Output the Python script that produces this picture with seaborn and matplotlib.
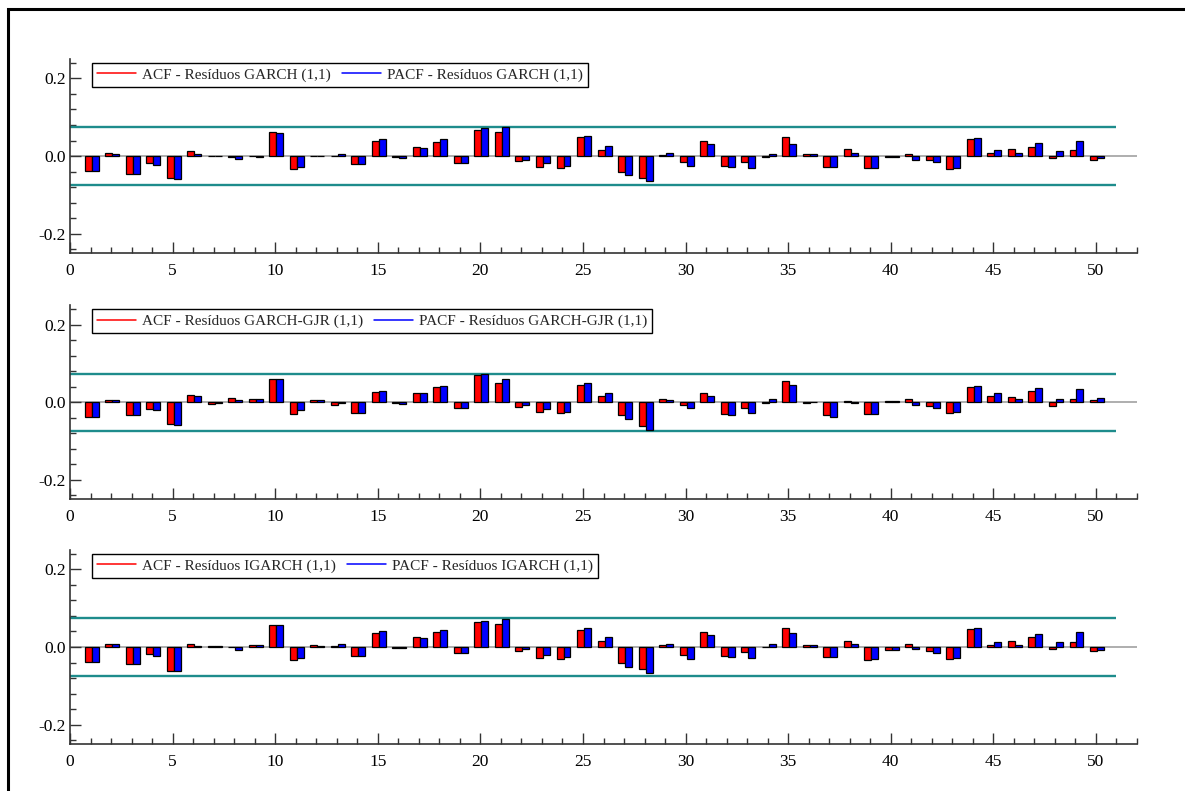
import pandas as pd
import matplotlib
matplotlib.use("Agg")
import matplotlib.pyplot as plt
from matplotlib.lines import Line2D
from matplotlib.patches import Rectangle
from matplotlib.ticker import MultipleLocator, FormatStrFormatter, FixedLocator
import seaborn as sns

# Correlogram of standardized residuals, lags 1..50
lags = list(range(1, 51))

acf_garch = [-0.038, 0.007, -0.047, -0.018, -0.057, 0.012, -0.001, -0.002, -0.001, 0.062,
             -0.033, 0.001, -0.001, -0.020, 0.040, -0.003, 0.024, 0.037, -0.018, 0.068,
             0.062, -0.014, -0.027, -0.032, 0.049, 0.015, -0.040, -0.056, 0.003, -0.015,
             0.040, -0.026, -0.015, -0.002, 0.049, 0.006, -0.027, 0.017, -0.032, -0.002,
             0.006, -0.011, -0.034, 0.044, 0.008, 0.019, 0.024, -0.006, 0.015, -0.009]
pacf_garch = [-0.038, 0.005, -0.046, -0.022, -0.058, 0.006, -0.001, -0.008, -0.002, 0.060,
              -0.028, -0.001, 0.004, -0.020, 0.044, -0.004, 0.021, 0.044, -0.018, 0.071,
              0.075, -0.009, -0.018, -0.026, 0.052, 0.026, -0.050, -0.064, 0.007, -0.025,
              0.030, -0.028, -0.030, 0.006, 0.032, 0.004, -0.027, 0.009, -0.031, -0.002,
              -0.010, -0.015, -0.031, 0.047, 0.015, 0.007, 0.033, 0.012, 0.039, -0.006]

acf_gjr = [-0.038, 0.007, -0.032, -0.017, -0.057, 0.020, -0.004, 0.010, 0.009, 0.061,
           -0.029, 0.007, -0.006, -0.027, 0.026, -0.002, 0.025, 0.040, -0.015, 0.070,
           0.049, -0.012, -0.025, -0.028, 0.044, 0.017, -0.033, -0.062, 0.008, -0.008,
           0.024, -0.031, -0.014, -0.001, 0.056, -0.002, -0.032, 0.004, -0.030, 0.002,
           0.008, -0.009, -0.027, 0.039, 0.017, 0.014, 0.029, -0.009, 0.009, 0.007]
pacf_gjr = [-0.038, 0.005, -0.032, -0.021, -0.059, 0.015, -0.003, 0.007, 0.009, 0.059,
            -0.021, 0.005, -0.002, -0.027, 0.030, -0.005, 0.025, 0.041, -0.015, 0.073,
            0.061, -0.006, -0.017, -0.024, 0.049, 0.024, -0.042, -0.072, 0.005, -0.014,
            0.017, -0.033, -0.027, 0.008, 0.045, 0.001, -0.037, -0.003, -0.029, 0.002,
            -0.006, -0.014, -0.026, 0.041, 0.024, 0.009, 0.036, 0.009, 0.033, 0.010]

acf_igarch = [-0.038, 0.009, -0.044, -0.019, -0.061, 0.009, 0.002, -0.001, 0.006, 0.057,
              -0.033, 0.004, 0.002, -0.023, 0.037, -0.003, 0.025, 0.038, -0.015, 0.065,
              0.059, -0.010, -0.029, -0.032, 0.044, 0.015, -0.042, -0.057, 0.004, -0.021,
              0.038, -0.023, -0.013, -0.001, 0.050, 0.005, -0.026, 0.015, -0.034, -0.009,
              0.009, -0.011, -0.030, 0.046, 0.006, 0.015, 0.026, -0.006, 0.014, -0.011]
pacf_igarch = [-0.038, 0.009, -0.044, -0.023, -0.062, 0.003, 0.002, -0.007, 0.004, 0.056,
               -0.029, 0.002, 0.007, -0.023, 0.041, -0.003, 0.023, 0.044, -0.015, 0.068,
               0.072, -0.005, -0.020, -0.026, 0.048, 0.027, -0.052, -0.067, 0.007, -0.030,
               0.031, -0.026, -0.029, 0.008, 0.035, 0.006, -0.026, 0.008, -0.032, -0.009,
               -0.006, -0.015, -0.029, 0.048, 0.014, 0.006, 0.034, 0.012, 0.038, -0.007]

labels_garch = ["ACF - Resíduos GARCH (1,1)", "PACF - Resíduos GARCH (1,1)"]
labels_gjr = ["ACF - Resíduos GARCH-GJR (1,1)", "PACF - Resíduos GARCH-GJR (1,1)"]
labels_igarch = ["ACF - Resíduos IGARCH (1,1)", "PACF - Resíduos IGARCH (1,1)"]

# approximate 95% significance band
band = 0.074

sns.set_style("ticks")
plt.rcParams["font.family"] = ["Liberation Serif", "DejaVu Serif"]

fig = plt.figure(figsize=(11.85, 7.91), dpi=100)

panels = [
    (acf_garch, pacf_garch, labels_garch, 0.6801),
    (acf_gjr, pacf_gjr, labels_gjr, 0.3688),
    (acf_igarch, pacf_igarch, labels_igarch, 0.0594),
]

colors = {"ACF": "#ff0000", "PACF": "#0000ff"}

for acf, pacf, labs, bottom in panels:
    ax = fig.add_axes([0.0591, bottom, 0.9004, 0.2453])
    df = pd.DataFrame({
        "lag": lags + lags,
        "valor": acf + pacf,
        "serie": ["ACF"] * len(lags) + ["PACF"] * len(lags),
    })
    df["pos"] = df["lag"] + 0.05

    ax.hlines(0, 0, 52, color="#a8a8a8", lw=1.3, zorder=0)
    sns.barplot(data=df, x="pos", y="valor", hue="serie", palette=colors,
                native_scale=True, width=0.68, dodge=True, saturation=1,
                errorbar=None, edgecolor="black", linewidth=0.9,
                legend=False, ax=ax, zorder=2)
    ax.hlines([band, -band], 0, 51, color="#1e8c8c", lw=1.7, zorder=1)

    ax.set_xlim(0, 52)
    ax.set_ylim(-0.25, 0.25)
    ax.set_xlabel("")
    ax.set_ylabel("")

    ax.xaxis.set_major_locator(MultipleLocator(5))
    ax.xaxis.set_minor_locator(MultipleLocator(1))
    ax.xaxis.set_major_formatter(FormatStrFormatter("%d"))
    ax.yaxis.set_major_locator(FixedLocator([-0.2, 0.0, 0.2]))
    ax.yaxis.set_minor_locator(MultipleLocator(0.04))
    ax.yaxis.set_major_formatter(FormatStrFormatter("%.1f"))

    ax.tick_params(axis="both", which="major", direction="in", length=8,
                   width=1, colors="#333333", labelcolor="black", labelsize=12.5)
    ax.tick_params(axis="both", which="minor", direction="in", length=4,
                   width=1, colors="#333333")
    ax.tick_params(axis="x", which="major", pad=7)
    ax.tick_params(axis="y", which="major", pad=3)

    for side in ("top", "right"):
        ax.spines[side].set_visible(False)
    for side in ("left", "bottom"):
        ax.spines[side].set_color("#333333")
        ax.spines[side].set_linewidth(1.2)

    handles = [Line2D([], [], color=colors["ACF"], lw=1.1),
               Line2D([], [], color=colors["PACF"], lw=1.1)]
    leg = ax.legend(handles, labs, loc="upper left", bbox_to_anchor=(0.0206, 0.979),
                    ncol=2, frameon=True, fancybox=False, edgecolor="black",
                    framealpha=1, fontsize=11, handlelength=2.55,
                    handletextpad=0.4, columnspacing=0.7, borderpad=0.33,
                    borderaxespad=0)
    leg.get_frame().set_linewidth(1.0)

# outer frame around the figure
fig.add_artist(Rectangle((8 / 1185, -0.1), 1.2, 1.1 - 8.5 / 791,
                         transform=fig.transFigure, fill=False,
                         lw=2.2, edgecolor="black"))

fig.savefig("out.png", dpi=100)
